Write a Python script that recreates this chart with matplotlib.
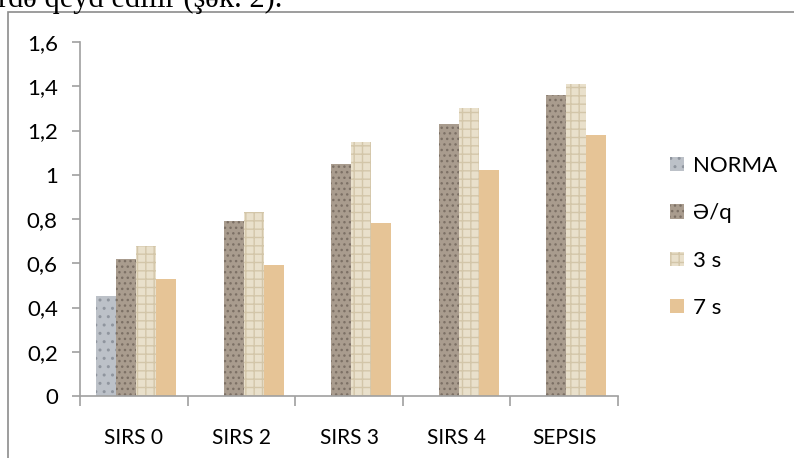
import numpy as np
import matplotlib.pyplot as plt
from matplotlib.patches import Rectangle

plt.rcParams['font.family'] = ['Lato', 'DejaVu Sans']
plt.rcParams['hatch.linewidth'] = 1.0

categories = ['SIRS 0', 'SIRS 2', 'SIRS 3', 'SIRS 4', 'SEPSIS']
norma = [0.45, np.nan, np.nan, np.nan, np.nan]
eq = [0.62, 0.79, 1.05, 1.23, 1.36]
s3 = [0.68, 0.83, 1.15, 1.30, 1.41]
s7 = [0.53, 0.59, 0.78, 1.02, 1.18]
series_names = ['NORMA', 'Ə/q', '3 s', '7 s']
yticks = [0, 0.2, 0.4, 0.6, 0.8, 1.0, 1.2, 1.4, 1.6]
ytick_labels = ['0', '0,2', '0,4', '0,6', '0,8', '1', '1,2', '1,4', '1,6']

# face, hatch colour, hatch pattern
styles = [
    ('#bcc1c8', '#8f959e', '..'),
    ('#a99c8e', '#7c7065', '...'),
    ('#e9e0cb', '#d3c6a9', '++'),
    ('#e6c496', '#e6c496', None),
]

fig = plt.figure(figsize=(7.94, 4.58), dpi=100)
ax = fig.add_axes([80 / 794, 1 - 396 / 458, 538 / 794, 354 / 458])

x = np.arange(len(categories))
width = 0.186
offsets = np.array([-1.5, -0.5, 0.5, 1.5]) * width + 0.02
handles = []
for vals, off, name, (fc, hc, hatch) in zip([norma, eq, s3, s7], offsets, series_names, styles):
    bars = ax.bar(x + off, vals, width, color=fc, edgecolor=hc, linewidth=0,
                  hatch=hatch, label=name)
    handles.append(bars)

ax.set_xlim(-0.5, len(categories) - 0.5)
ax.set_ylim(0, 1.6)
ax.set_yticks(yticks)
ax.set_yticklabels(ytick_labels, fontsize=16)
ax.set_xticks(x)
ax.set_xticklabels(categories, fontsize=15)
ax.set_xticks(np.arange(-0.5, len(categories)), minor=True)
ax.tick_params(axis='x', which='major', length=0, pad=23)
ax.tick_params(axis='x', which='minor', length=7, color='#a0a0a0', width=1.2)
ax.tick_params(axis='y', length=6, color='#a0a0a0', width=1.2, pad=10)
for side in ['top', 'right']:
    ax.spines[side].set_visible(False)
for side in ['left', 'bottom']:
    ax.spines[side].set_color('#a0a0a0')
    ax.spines[side].set_linewidth(1.2)

ax.legend(handles=handles, loc='center left', bbox_to_anchor=(1.06, 0.449),
          frameon=False, fontsize=16, handlelength=0.6, handleheight=0.6,
          handletextpad=0.4, labelspacing=1.23)

# outer chart border (top and left edges visible)
fig.add_artist(Rectangle((8 / 794, -0.1), 1.0, 1 - 12 / 458 + 0.1,
                         transform=fig.transFigure, fill=False,
                         edgecolor='#8c8c8c', linewidth=1.2))

# cropped body text above the chart
fig.text(-2 / 794, 1 - 7 / 458, 'rdə qeyd edilir (şək. 2).', fontsize=22,
         family='Liberation Serif', va='baseline', ha='left')

fig.savefig('out.png', dpi=100)
